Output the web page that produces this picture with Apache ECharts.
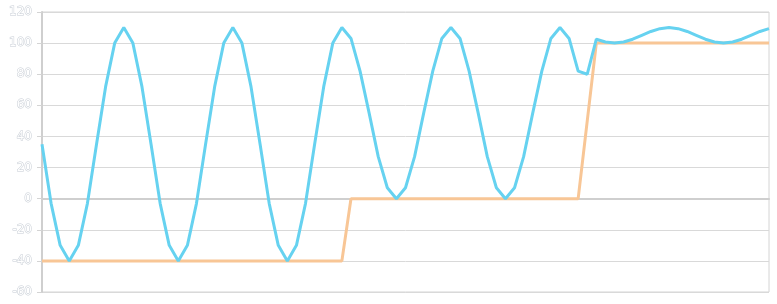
<!DOCTYPE html>
<html>
<head>
<meta charset="utf-8">
<script src="https://cdn.jsdelivr.net/npm/echarts@6/dist/echarts.min.js"></script>
<style>html,body{margin:0;padding:0;background:#fff}#c{width:777px;height:304px}</style>
</head>
<body>
<div id="c"></div>
<script>
var yTicks = [-60, -40, -20, 0, 20, 40, 60, 80, 100, 120];
var response = [
  35, -3, -30, -40, -30, -3, 35, 72, 100, 110, 100, 72,
  35, -3, -30, -40, -30, -3, 35, 72, 100, 110, 100, 72,
  35, -3, -30, -40, -30, -3, 35, 72, 100, 110,
  103, 82, 55, 27, 7, 0, 7, 27, 55, 82, 103, 110,
  103, 82, 55, 27, 7, 0, 7, 27, 55, 82, 103, 110,
  103, 82, 80, 102.5,
  100.7, 100, 100.7, 102.5, 105, 107.5, 109.3, 110, 109.3, 107.5, 105,
  102.5, 100.7, 100, 100.7, 102.5, 105, 107.5, 109.3
];
var setpoint = [
  -40, -40, -40, -40, -40, -40, -40, -40, -40, -40, -40, -40,
  -40, -40, -40, -40, -40, -40, -40, -40, -40, -40, -40, -40,
  -40, -40, -40, -40, -40, -40, -40, -40, -40, -40,
  0, 0, 0, 0, 0, 0, 0, 0, 0, 0, 0, 0, 0,
  0, 0, 0, 0, 0, 0, 0, 0, 0, 0, 0, 0, 0,
  50,
  100, 100, 100, 100, 100, 100, 100, 100, 100, 100,
  100, 100, 100, 100, 100, 100, 100, 100, 100, 100
];
var categories = response.map(function (v, i) { return String(i); });

var chart = echarts.init(document.getElementById('c'), null, {renderer: 'canvas'});
chart.setOption({
  animation: false,
  grid: {left: 42, right: 8, top: 12, bottom: 12, show: true, borderColor: '#d4d4d4', borderWidth: 1},
  xAxis: {
    type: 'category', data: categories, boundaryGap: false,
    axisLabel: {show: false}, axisTick: {show: false},
    axisLine: {show: true, lineStyle: {color: '#cfcfcf', width: 2}},
    splitLine: {show: false}
  },
  yAxis: {
    type: 'value', min: yTicks[0], max: yTicks[yTicks.length - 1], interval: 20,
    axisLine: {show: true, lineStyle: {color: '#cfcfcf', width: 2}},
    axisTick: {show: true, length: 5, lineStyle: {color: '#d4d4d4'}},
    axisLabel: {color: '#ffffff', textBorderColor: '#c6ccd4', textBorderWidth: 1,
                fontSize: 12, margin: 10, fontFamily: 'DejaVu Sans'},
    splitLine: {lineStyle: {color: '#d9d9d9', width: 1}}
  },
  series: [
    {type: 'line', data: setpoint, symbol: 'none', z: 2,
     lineStyle: {color: '#f8c696', width: 3}},
    {type: 'line', data: response, symbol: 'none', z: 3,
     lineStyle: {color: '#66d2f0', width: 3}}
  ]
});
</script>
</body>
</html>
